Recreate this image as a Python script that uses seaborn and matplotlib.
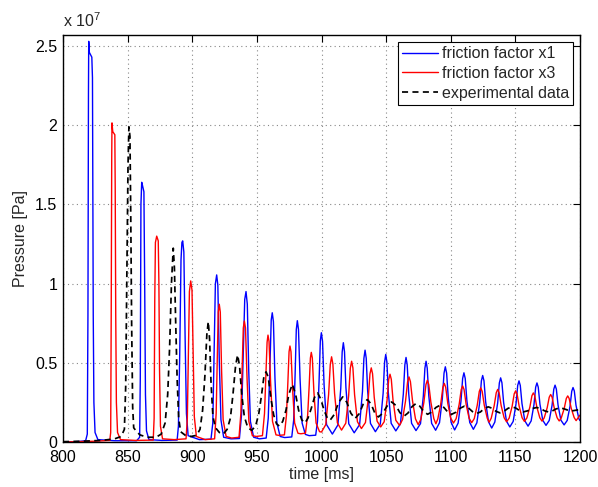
import numpy as np
import pandas as pd
import matplotlib
matplotlib.use('Agg')
import matplotlib.pyplot as plt
from matplotlib.ticker import AutoMinorLocator, FuncFormatter
import seaborn as sns

# ------------------------------------------------------------
# Dados: (tempo [ms], pressão [x 1e7 Pa])
# ------------------------------------------------------------
blue_pts = [
    (800, 0.0), (812, 0.003), (817.5, 0.008), (818.8, 0.05), (819.3, 0.8),
    (819.7, 2.2), (819.9, 2.53), (820.4, 2.46), (822.3, 2.43), (822.8, 2.3),
    (823.0, 1.76), (823.4, 0.8), (823.9, 0.25), (824.8, 0.06), (827, 0.015),
    (840, 0.008), (857, 0.008), (859.3, 0.03), (859.8, 0.4), (860.3, 1.5),
    (860.9, 1.64), (861.5, 1.62), (862.6, 1.58), (863.2, 1.0), (863.8, 0.3),
    (864.6, 0.07), (866.5, 0.015), (876.5, 0.01), (888.3, 0.012), (889.3, 0.1),
    (890.3, 0.55), (891.3, 1.15), (892.0, 1.26), (892.6, 1.27), (893.5, 1.2),
    (894.5, 0.65), (895.5, 0.18), (896.8, 0.04), (905.5, 0.015), (914.5, 0.018),
    (915.9, 0.12), (916.9, 0.55), (917.9, 1.0), (918.9, 1.055), (919.8, 0.99),
    (920.9, 0.52), (922.2, 0.14), (924.3, 0.03), (930, 0.02), (936.5, 0.022),
    (938.2, 0.18), (939.4, 0.55), (940.6, 0.9), (941.6, 0.95), (942.6, 0.87),
    (943.7, 0.45), (945.0, 0.13), (947.5, 0.03), (952, 0.02), (957.2, 0.025),
    (958.8, 0.15), (960.0, 0.45), (961.1, 0.77), (961.9, 0.816), (962.8, 0.76),
    (964.0, 0.4), (965.5, 0.12), (968, 0.035), (971.5, 0.028), (977.0, 0.032),
    (978.5, 0.14), (979.6, 0.43), (980.5, 0.71), (981.3, 0.766), (982.2, 0.71),
    (983.4, 0.4), (985.0, 0.12), (987.5, 0.048), (990.5, 0.04), (995.5, 0.043),
    (996.9, 0.13), (998.1, 0.38), (999.1, 0.64), (999.9, 0.69), (1000.8, 0.635),
    (1002.0, 0.36), (1003.9, 0.11), (1008.4, 0.05),
    (1012.7, 0.108), (1014.9, 0.339), (1016.0, 0.569), (1016.9, 0.627),
    (1017.8, 0.570), (1018.9, 0.343), (1021.1, 0.115), (1025.3, 0.058),
    (1029.5, 0.110), (1031.7, 0.319), (1032.8, 0.528), (1033.7, 0.58),
    (1034.6, 0.529), (1035.7, 0.323), (1037.9, 0.117), (1041.7, 0.065),
    (1045.5, 0.114), (1047.7, 0.309), (1048.8, 0.504), (1049.7, 0.553),
    (1050.6, 0.505), (1051.7, 0.312), (1053.9, 0.118), (1057.5, 0.07),
    (1061.1, 0.116), (1063.3, 0.302), (1064.5, 0.488), (1065.4, 0.534),
    (1066.3, 0.488), (1067.5, 0.303), (1069.7, 0.118), (1073.1, 0.072),
    (1076.6, 0.116), (1078.8, 0.291), (1080.0, 0.466), (1080.9, 0.51),
    (1081.8, 0.466), (1083.0, 0.292), (1085.2, 0.118), (1088.3, 0.074),
    (1091.3, 0.122), (1093.5, 0.275), (1094.8, 0.435), (1095.8, 0.475),
    (1096.8, 0.435), (1098.1, 0.276), (1100.3, 0.124), (1103, 0.076),
    (1105.7, 0.119), (1107.9, 0.257), (1109.2, 0.401), (1110.2, 0.437),
    (1111.2, 0.401), (1112.5, 0.259), (1114.7, 0.123), (1117.5, 0.08),
    (1120.2, 0.121), (1122.4, 0.25), (1123.7, 0.386), (1124.7, 0.42),
    (1125.7, 0.387), (1127.0, 0.254), (1129.2, 0.128), (1131.7, 0.088),
    (1134.1, 0.126), (1136.3, 0.247), (1137.6, 0.373), (1138.6, 0.405),
    (1139.6, 0.374), (1140.9, 0.25), (1143.1, 0.132), (1145.7, 0.095),
    (1148.3, 0.13), (1150.5, 0.241), (1151.8, 0.357), (1152.8, 0.386),
    (1153.8, 0.357), (1155.1, 0.243), (1157.3, 0.134), (1159.8, 0.1),
    (1162.2, 0.133), (1164.4, 0.237), (1165.7, 0.346), (1166.7, 0.373),
    (1167.7, 0.346), (1169.0, 0.239), (1171.2, 0.137), (1173.7, 0.105),
    (1176.2, 0.136), (1178.4, 0.232), (1179.7, 0.333), (1180.7, 0.359),
    (1181.7, 0.334), (1183.0, 0.234), (1185.2, 0.138), (1187.7, 0.108),
    (1190.1, 0.136), (1192.3, 0.226), (1193.6, 0.32), (1194.6, 0.344),
    (1195.6, 0.322), (1196.9, 0.232), (1199.1, 0.147), (1200, 0.135),
]

red_pts = [
    (800, 0.0), (825, 0.005), (836.2, 0.01), (836.9, 0.06), (837.3, 0.8),
    (837.7, 1.8), (837.9, 2.015), (838.5, 1.96), (840.1, 1.94), (840.4, 1.6),
    (840.8, 0.8), (841.3, 0.25), (842.2, 0.06), (844.5, 0.015), (856, 0.01),
    (869.8, 0.012), (870.5, 0.15), (871.0, 0.9), (871.5, 1.26), (872.5, 1.30),
    (873.7, 1.27), (874.2, 1.0), (874.7, 0.45), (875.4, 0.1), (877, 0.02),
    (886, 0.015), (895.2, 0.02), (896.2, 0.15), (897.0, 0.55), (897.8, 0.95),
    (898.8, 1.017), (899.8, 0.96), (900.7, 0.55), (901.6, 0.16), (903.2, 0.035),
    (910, 0.015), (917.3, 0.02), (918.5, 0.18), (919.3, 0.5), (920.1, 0.82),
    (920.9, 0.87), (921.7, 0.82), (922.7, 0.45), (923.9, 0.14), (926.2, 0.035),
    (930.5, 0.025), (936.2, 0.03), (937.6, 0.18), (938.6, 0.46), (939.5, 0.72),
    (940.3, 0.764), (941.2, 0.72), (942.4, 0.4), (943.8, 0.13), (946.5, 0.04),
    (949.5, 0.035), (954.3, 0.04), (955.9, 0.18), (957.0, 0.43), (957.9, 0.63),
    (958.6, 0.675), (959.4, 0.635), (960.6, 0.38), (962.1, 0.13), (964.8, 0.045),
    (967, 0.042), (971.3, 0.045), (972.9, 0.17), (974.0, 0.38), (974.9, 0.57),
    (975.6, 0.606), (976.4, 0.57), (977.6, 0.34), (979.2, 0.12), (981.8, 0.055),
    (984, 0.052), (987.6, 0.056), (989.3, 0.17), (990.5, 0.36), (991.4, 0.53),
    (992.1, 0.566), (992.9, 0.53), (994.1, 0.32), (995.8, 0.12), (998.5, 0.065),
    (1000, 0.063),
    (1003.3, 0.11), (1005.5, 0.30), (1006.8, 0.49), (1007.8, 0.538),
    (1008.8, 0.492), (1010.1, 0.307), (1012.3, 0.121), (1015.5, 0.075),
    (1018.8, 0.119), (1021.0, 0.293), (1022.3, 0.466), (1023.3, 0.51),
    (1024.3, 0.468), (1025.6, 0.298), (1027.8, 0.128), (1030.9, 0.085),
    (1034.0, 0.123), (1036.2, 0.277), (1037.5, 0.430), (1038.5, 0.468),
    (1039.5, 0.431), (1040.8, 0.282), (1043.0, 0.132), (1045.8, 0.095),
    (1048.5, 0.128), (1050.7, 0.262), (1052.0, 0.395), (1053.0, 0.428),
    (1054.0, 0.396), (1055.3, 0.267), (1057.5, 0.137), (1060.4, 0.105),
    (1062.7, 0.142), (1065.0, 0.258), (1066.6, 0.380), (1067.7, 0.411),
    (1068.8, 0.381), (1070.4, 0.261), (1072.7, 0.146), (1074.8, 0.11),
    (1076.9, 0.144), (1079.2, 0.25), (1080.8, 0.362), (1081.9, 0.39),
    (1083.0, 0.363), (1084.6, 0.253), (1086.9, 0.148), (1088.5, 0.115),
    (1090.0, 0.146), (1092.3, 0.243), (1093.9, 0.345), (1095.0, 0.37),
    (1096.1, 0.345), (1097.7, 0.245), (1100.0, 0.15), (1102.1, 0.12),
    (1104.2, 0.148), (1106.5, 0.237), (1108.1, 0.331), (1109.2, 0.354),
    (1110.3, 0.331), (1111.9, 0.238), (1114.2, 0.150), (1116.2, 0.122),
    (1118.2, 0.148), (1120.5, 0.232), (1122.1, 0.32), (1123.2, 0.342),
    (1124.3, 0.320), (1125.9, 0.234), (1128.2, 0.151), (1129.7, 0.125),
    (1131.3, 0.15), (1133.6, 0.229), (1135.2, 0.311), (1136.3, 0.332),
    (1137.4, 0.312), (1139.0, 0.23), (1141.3, 0.153), (1143.2, 0.128),
    (1145.2, 0.151), (1147.5, 0.226), (1149.1, 0.304), (1150.2, 0.323),
    (1151.3, 0.304), (1152.9, 0.227), (1155.2, 0.153), (1157.0, 0.13),
    (1158.9, 0.152), (1161.2, 0.22), (1162.8, 0.292), (1163.9, 0.31),
    (1165.0, 0.292), (1166.6, 0.221), (1168.9, 0.153), (1170.6, 0.132),
    (1172.3, 0.152), (1174.6, 0.216), (1176.2, 0.283), (1177.3, 0.30),
    (1178.4, 0.283), (1180.0, 0.217), (1182.3, 0.153), (1183.9, 0.133),
    (1185.5, 0.152), (1187.8, 0.212), (1189.4, 0.275), (1190.5, 0.291),
    (1191.6, 0.275), (1193.2, 0.213), (1195.5, 0.154), (1197.0, 0.135),
    (1200, 0.17),
]

exp_pts = [
    (800, 0.002), (815, 0.005), (830, 0.01), (840, 0.02), (845, 0.035),
    (847.5, 0.08), (848.5, 0.35), (849.5, 1.1), (850.3, 1.75), (851.0, 1.99),
    (851.8, 1.93), (852.4, 1.45), (853.1, 0.75), (853.9, 0.22), (854.7, 0.09),
    (856.5, 0.07), (859.5, 0.045), (865, 0.03), (872, 0.03), (876, 0.05),
    (879, 0.12), (881, 0.3), (882.5, 0.6), (883.9, 1.0), (885.3, 1.224),
    (886.2, 1.1), (887.2, 0.75), (888.3, 0.4), (889.5, 0.15), (891, 0.065),
    (895, 0.04), (899, 0.035), (903.4, 0.042), (906, 0.08), (908, 0.2),
    (909.8, 0.42), (911.3, 0.68), (912.4, 0.76), (913.4, 0.65), (914.5, 0.38),
    (916, 0.16), (918, 0.09), (921, 0.06), (924, 0.05), (927, 0.08),
    (929.5, 0.15), (931.5, 0.3), (933.5, 0.48), (935.1, 0.55), (936.6, 0.48),
    (938.3, 0.3), (940.3, 0.16), (943, 0.09), (946, 0.074), (949, 0.1),
    (951.5, 0.18), (953.5, 0.29), (955.4, 0.41), (957.1, 0.443), (958.8, 0.41),
    (960.8, 0.28), (963, 0.17), (965.2, 0.115), (967.4, 0.1), (970, 0.13),
    (972.5, 0.2), (974.7, 0.3), (977.4, 0.365), (980, 0.3), (982.3, 0.2),
    (984.7, 0.14), (987.2, 0.12), (989.5, 0.15), (992, 0.21), (994.5, 0.28),
    (997, 0.31), (999.5, 0.27), (1002, 0.2), (1004.3, 0.155), (1006.6, 0.137),
    (1009.9, 0.174), (1013.1, 0.248), (1016.4, 0.285), (1019.6, 0.251),
    (1022.7, 0.182), (1025.9, 0.148), (1029.1, 0.178), (1032.2, 0.238),
    (1035.4, 0.268), (1038.3, 0.241), (1041.1, 0.186), (1044, 0.158),
    (1047.4, 0.182), (1050.9, 0.229), (1054.3, 0.253), (1057.5, 0.231),
    (1060.6, 0.186), (1063.8, 0.163), (1066.9, 0.183), (1070, 0.223),
    (1073.1, 0.243), (1076.1, 0.226), (1079.1, 0.192), (1082.1, 0.175),
    (1085.3, 0.189), (1088.5, 0.218), (1091.7, 0.232), (1094.7, 0.218),
    (1097.7, 0.189), (1100.7, 0.175), (1104, 0.188), (1107.2, 0.213),
    (1110.5, 0.226), (1113.7, 0.215), (1116.8, 0.192), (1120, 0.18),
    (1123, 0.19), (1126, 0.212), (1129, 0.222), (1132, 0.213),
    (1135, 0.194), (1138, 0.184), (1141.2, 0.194), (1144.4, 0.213),
    (1147.6, 0.222), (1150.4, 0.214), (1153.3, 0.198), (1156.1, 0.19),
    (1159.6, 0.197), (1163, 0.211), (1166.5, 0.218), (1169.5, 0.211),
    (1172.5, 0.197), (1175.5, 0.19), (1178.5, 0.196), (1181.5, 0.209),
    (1184.5, 0.215), (1187.5, 0.21), (1190.6, 0.201), (1193.6, 0.196),
    (1200, 0.205),
]

labels = ['friction factor x1', 'friction factor x3', 'experimental data']
colors = ['#0000ff', '#ff0000', '#000000']
x_ticks = list(range(800, 1201, 50))
y_ticks = [0, 0.5e7, 1e7, 1.5e7, 2e7, 2.5e7]

# ------------------------------------------------------------
# Estilo (aparência tipo MATLAB)
# ------------------------------------------------------------
sns.set_theme(style='white')
plt.rcParams['font.family'] = ['Liberation Sans', 'DejaVu Sans']
plt.rcParams['mathtext.fontset'] = 'custom'
plt.rcParams['mathtext.rm'] = 'Liberation Sans'
plt.rcParams['axes.edgecolor'] = 'black'
plt.rcParams['axes.linewidth'] = 1.0

frames = []
for pts, lab in zip([blue_pts, red_pts, exp_pts], labels):
    df = pd.DataFrame(pts, columns=['time', 'p'])
    df['pressure'] = df['p'] * 1e7
    df['serie'] = lab
    frames.append(df)

fig = plt.figure(figsize=(5.98, 4.87), dpi=100)
ax = fig.add_axes([63 / 598, 1 - 442 / 487, 517 / 598, 407 / 487])

for df, lab, col in zip(frames, labels, colors):
    if lab == 'experimental data':
        ls, lw = (0, (3.5, 2.5)), 1.25
    else:
        ls, lw = '-', 1.0
    sns.lineplot(data=df, x='time', y='pressure', ax=ax, color=col,
                 estimator=None, sort=False, label=lab, linewidth=lw,
                 linestyle=ls)

ax.set_xlim(800, 1200)
ax.set_ylim(0, 2.57e7)
ax.set_xticks(x_ticks)
ax.set_yticks(y_ticks)
ax.yaxis.set_major_formatter(FuncFormatter(lambda v, _: f'{v / 1e7:g}'))
ax.xaxis.set_minor_locator(AutoMinorLocator(10))
ax.yaxis.set_minor_locator(AutoMinorLocator(10))

ax.tick_params(which='major', direction='in', top=True, right=True,
               length=5, width=0.8, labelsize=11.5, colors='black')
ax.tick_params(axis='x', which='major', pad=6)
ax.tick_params(axis='y', which='major', pad=4)
ax.tick_params(which='minor', direction='in', top=False, right=False,
               length=2.5, width=0.6)
ax.set_axisbelow(True)
ax.grid(True, which='major', linestyle=(0, (1, 3)), color='#888888', linewidth=0.8)

ax.set_xlabel('time [ms]', fontsize=11.5, labelpad=1)
ax.set_ylabel('Pressure [Pa]', fontsize=11.5, labelpad=5)
ax.text(0, 1.012, r'x 10$^{7}$', transform=ax.transAxes, ha='left',
        va='bottom', fontsize=11.5)

leg = ax.legend(loc='upper right', fontsize=11.5, frameon=True, fancybox=False,
                edgecolor='black', framealpha=1, borderaxespad=0.45,
                labelspacing=0.3, handlelength=2.3, handletextpad=0.2,
                borderpad=0.25)
leg.get_frame().set_linewidth(0.8)

for sp in ax.spines.values():
    sp.set_color('black')
    sp.set_linewidth(1.0)

fig.savefig('out.png', dpi=100)
